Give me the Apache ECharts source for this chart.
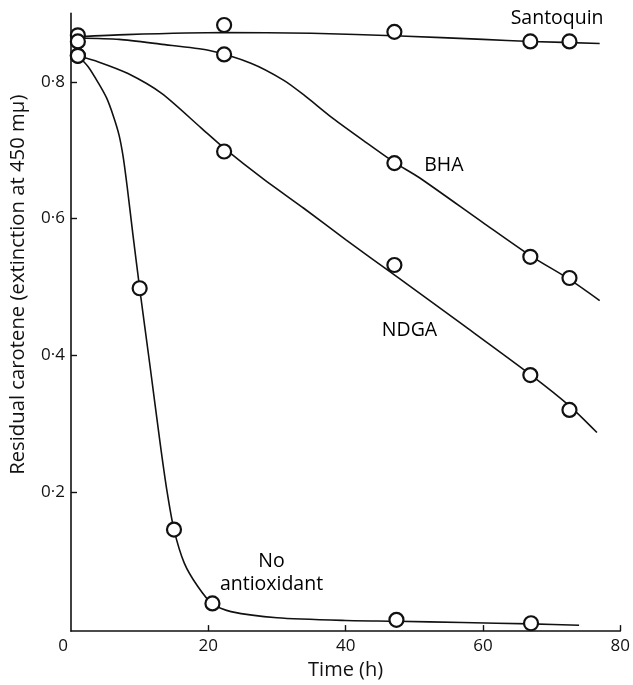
<!DOCTYPE html>
<html>
<head>
<meta charset="utf-8">
<script src="https://cdn.jsdelivr.net/npm/echarts@6/dist/echarts.min.js"></script>
<style>
html,body{margin:0;padding:0;background:#fff;}
#chart{width:633px;height:685px;}
</style>
</head>
<body>
<div id="chart"></div>
<script>
// ---- data ----
const xTicks = [0, 20, 40, 60, 80];
const yTicks = [0.2, 0.4, 0.6, 0.8];

// measured points (circles)
const santoquinPts = [[1, 0.868], [22.3, 0.883], [47.1, 0.873], [66.9, 0.859], [72.6, 0.859]];
const bhaPts = [[1, 0.859], [22.3, 0.840], [47.1, 0.681], [66.9, 0.544], [72.6, 0.513]];
const ndgaPts = [[1, 0.838], [22.3, 0.698], [47.1, 0.532], [66.9, 0.371], [72.6, 0.320]];
const noAntiPts = [[1, 0.838], [10, 0.498], [15, 0.145], [20.6, 0.037], [47.4, 0.013], [67, 0.008]];

// fitted curves
const santoquinCurve = [[1, 0.866], [8, 0.869], [22, 0.872], [35, 0.871], [48, 0.867], [60, 0.862], [67, 0.859], [77, 0.856]];
const bhaCurve = [[1, 0.864], [7, 0.862], [13, 0.855], [20, 0.846], [26.2, 0.827], [31, 0.802], [34, 0.780], [38.2, 0.746], [43, 0.711], [47.1, 0.682], [50.7, 0.660], [60, 0.594], [67, 0.545], [72.6, 0.511], [77, 0.480]];
const ndgaCurve = [[1, 0.838], [4, 0.829], [8.3, 0.812], [13.2, 0.783], [18.9, 0.733], [22.3, 0.703], [28, 0.658], [33.9, 0.615], [40, 0.569], [47.3, 0.516], [57, 0.445], [67, 0.371], [72.6, 0.326], [76.6, 0.287]];
const noAntiCurve = [[1, 0.838], [2.5, 0.822], [4, 0.798], [5.2, 0.776], [6.2, 0.749], [7, 0.722], [7.6, 0.690], [8.2, 0.645], [9, 0.578], [10, 0.498], [11.5, 0.385], [13, 0.270], [14, 0.200], [15, 0.145], [16.5, 0.096], [18.45, 0.062], [20.6, 0.036], [23.3, 0.025], [30, 0.016], [40, 0.012], [47.4, 0.011], [57, 0.009], [67, 0.007], [74, 0.005]];

// curve labels: [x, y, text]
const curveLabels = [
  [70.8, 0.892, 'Santoquin'],
  [54.3, 0.677, 'BHA'],
  [49.3, 0.437, 'NDGA'],
  [29.2, 0.082, 'No\nantioxidant']
];

const FONT = '"Open Sans", Lato, sans-serif';
const INK = '#111';

const chart = echarts.init(document.getElementById('chart'), null, {renderer: 'canvas'});

function curve(data) {
  return {
    type: 'line', data: data, smooth: 0.25,
    showSymbol: false, symbol: 'none', silent: true, z: 2,
    lineStyle: {color: INK, width: 1.6}
  };
}
function pts(data) {
  return {
    type: 'scatter', data: data, symbol: 'circle', symbolSize: 14, z: 5,
    itemStyle: {color: '#fff', borderColor: INK, borderWidth: 2.2, opacity: 1}
  };
}

chart.setOption({
  backgroundColor: '#fff',
  animation: false,
  grid: {left: 69, right: 10, top: 13.4, bottom: 53.3, containLabel: false},
  xAxis: {
    type: 'value', min: 0, max: 80,
    name: 'Time (h)', nameLocation: 'middle', nameGap: 24,
    nameTextStyle: {fontFamily: FONT, fontSize: 20, color: INK},
    axisLine: {show: true, onZero: false, lineStyle: {color: INK, width: 1.6}},
    axisTick: {show: true, inside: true, length: 6, customValues: [20, 40, 60, 80], lineStyle: {color: INK, width: 1.4}},
    axisLabel: {
      customValues: xTicks, margin: 7, fontFamily: FONT, fontSize: 17, color: INK,
      formatter: function (v) { return v === 0 ? '{z|0}' : String(v); },
      rich: {z: {fontFamily: FONT, fontSize: 17, color: INK, padding: [0, 16, 0, 0]}}
    },
    splitLine: {show: false}
  },
  yAxis: {
    type: 'value', min: -0.0035, max: 0.9,
    name: 'Residual carotene (extinction at 450 mμ)', nameLocation: 'middle', nameGap: 43,
    nameTextStyle: {fontFamily: FONT, fontSize: 20.3, color: INK, padding: [0, 0, 0, 75]},
    axisLine: {show: true, lineStyle: {color: INK, width: 1.6}},
    axisTick: {show: true, inside: true, length: 6, customValues: yTicks, lineStyle: {color: INK, width: 1.4}},
    axisLabel: {
      customValues: yTicks, margin: 6, fontFamily: FONT, fontSize: 17, color: INK,
      formatter: function (v) { return v.toFixed(1).replace('.', '·'); }
    },
    splitLine: {show: false}
  },
  series: [
    curve(santoquinCurve), curve(bhaCurve), curve(ndgaCurve), curve(noAntiCurve),
    pts(santoquinPts), pts(bhaPts), pts(ndgaPts), pts(noAntiPts),
    {
      type: 'scatter', symbolSize: 0, silent: true, z: 6,
      itemStyle: {opacity: 1},
      data: curveLabels.map(function (d) { return {value: [d[0], d[1]], name: d[2]}; }),
      label: {
        show: true, position: 'inside', formatter: '{b}', opacity: 1,
        fontFamily: FONT, fontSize: 19.5, color: '#000', lineHeight: 23, align: 'center'
      }
    }
  ]
});
</script>
</body>
</html>
